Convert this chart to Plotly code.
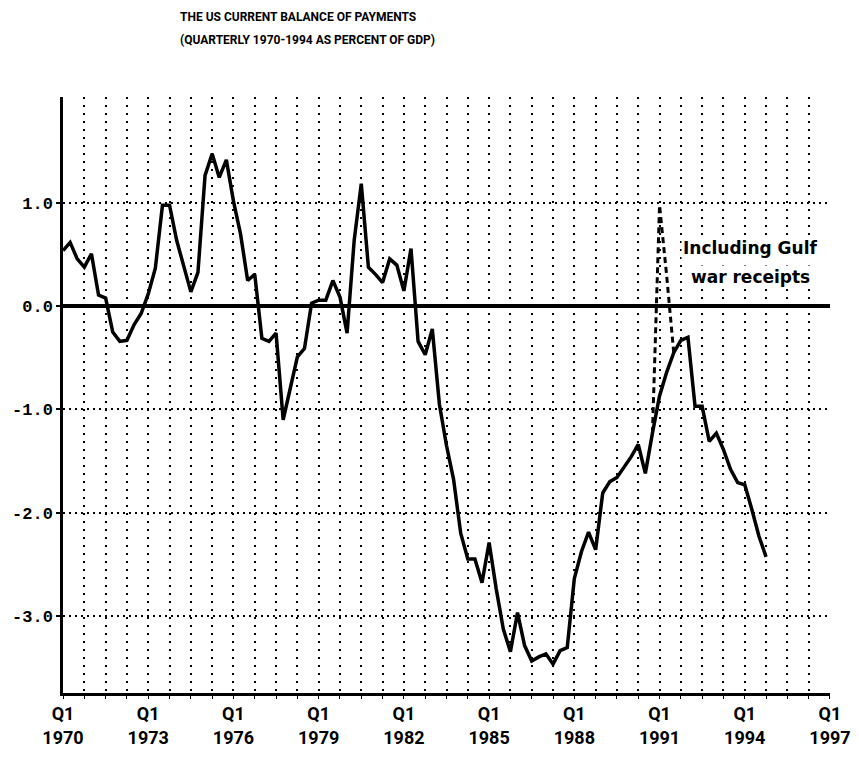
import plotly.graph_objects as go

# Quarterly data, 1970Q1 .. 1994Q4 (percent of GDP)
years = list(range(1970, 1995))
quarters = [1, 2, 3, 4]
balance = [
    0.54, 0.62, 0.46, 0.38,      # 1970
    0.51, 0.11, 0.08, -0.25,     # 1971
    -0.34, -0.33, -0.18, -0.07,  # 1972
    0.12, 0.37, 0.98, 0.98,      # 1973
    0.64, 0.38, 0.14, 0.33,      # 1974
    1.27, 1.48, 1.25, 1.42,      # 1975
    1.02, 0.70, 0.25, 0.31,      # 1976
    -0.31, -0.34, -0.26, -1.10,  # 1977
    -0.80, -0.49, -0.41, 0.03,   # 1978
    0.06, 0.06, 0.25, 0.09,      # 1979
    -0.26, 0.64, 1.19, 0.38,     # 1980
    0.31, 0.23, 0.46, 0.40,      # 1981
    0.15, 0.56, -0.34, -0.47,    # 1982
    -0.22, -0.95, -1.35, -1.68,  # 1983
    -2.20, -2.45, -2.45, -2.68,  # 1984
    -2.29, -2.74, -3.13, -3.35,  # 1985
    -2.97, -3.29, -3.44, -3.40,  # 1986
    -3.37, -3.47, -3.34, -3.31,  # 1987
    -2.64, -2.38, -2.19, -2.36,  # 1988
    -1.81, -1.70, -1.66, -1.56,  # 1989
    -1.46, -1.34, -1.62, -1.23,  # 1990
    -0.87, -0.64, -0.45, -0.33,  # 1991
    -0.30, -0.97, -0.97, -1.31,  # 1992
    -1.23, -1.39, -1.58, -1.71,  # 1993
    -1.73, -1.97, -2.23, -2.43,  # 1994
]

# "Including Gulf war receipts" branch (1990Q4 .. 1991Q3)
gulf_x_labels = [(1990, 4), (1991, 1), (1991, 2), (1991, 3)]
gulf_values = [-1.23, 0.98, 0.30, -0.45]

tick_years = [1970, 1973, 1976, 1979, 1982, 1985, 1988, 1991, 1994, 1997]
tick_text = ["Q1<br>%d" % y for y in tick_years]
y_ticks = [-3, -2, -1, 0, 1]
y_tick_text = ["-3.0", "-2.0", "-1.0", "0.0", "1.0"]

title_line1 = "THE US CURRENT BALANCE OF PAYMENTS"
title_line2 = "(QUARTERLY 1970-1994 AS PERCENT OF GDP)"
note_line1 = "Including Gulf"
note_line2 = "war receipts"

t = [y + (q - 1) / 4 for y in years for q in quarters]
gx = [y + (q - 1) / 4 for y, q in gulf_x_labels]

NARROW = "Roboto, Liberation Sans, sans-serif"
MONO = "Liberation Mono, DejaVu Sans Mono, monospace"
NOTE = "DejaVu Sans, sans-serif"

fig = go.Figure()
fig.add_trace(go.Scatter(x=gx, y=gulf_values, mode="lines",
                         line=dict(color="black", width=3, dash="6px,4px"),
                         hoverinfo="skip", showlegend=False))
fig.add_trace(go.Scatter(x=t, y=balance, mode="lines",
                         line=dict(color="black", width=3.5),
                         showlegend=False))

# page body has an 8px default margin, so the figure is offset by 8px
fig.update_layout(
    width=851, height=750,
    margin=dict(l=55, r=29, t=89, b=65),
    paper_bgcolor="white", plot_bgcolor="white",
    showlegend=False,
    font=dict(family=NARROW, color="black"),
)

fig.update_xaxes(
    range=[1969.999, 1997.001],
    automargin=False,
    tickmode="array", tickvals=tick_years, ticktext=tick_text,
    tickfont=dict(family=NARROW, size=18, color="black", weight="bold"),
    showgrid=True, gridcolor="black", gridwidth=1.5, griddash="2px,6px",
    minor=dict(dtick=0.75, tick0=1970, showgrid=True, gridcolor="black",
               gridwidth=1.5, griddash="2px,6px", ticks="outside",
               ticklen=3, tickcolor="black"),
    ticks="outside", ticklen=3, tickcolor="black",
    showline=True, linecolor="black", linewidth=2.5,
    zeroline=False, fixedrange=True,
)
fig.update_yaxes(
    range=[-3.75, 2.03],
    automargin=False,
    tickmode="array", tickvals=y_ticks, ticktext=y_tick_text,
    tickfont=dict(family=MONO, size=17, color="black", weight="bold"),
    showgrid=True, gridcolor="black", gridwidth=1.5, griddash="2px,4px",
    ticks="outside", ticklen=4, tickwidth=2, tickcolor="black",
    showline=True, linecolor="black", linewidth=2.5,
    zeroline=True, zerolinecolor="black", zerolinewidth=3.5,
    fixedrange=True,
)

fig.add_annotation(text=title_line1, xref="paper", yref="paper",
                   x=0.15, y=1.134, xanchor="left", yanchor="middle",
                   showarrow=False,
                   font=dict(family=NARROW, size=12, color="black", weight="bold"))
fig.add_annotation(text=title_line2, xref="paper", yref="paper",
                   x=0.15, y=1.0956, xanchor="left", yanchor="middle",
                   showarrow=False,
                   font=dict(family=NARROW, size=12, color="black", weight="bold"))
fig.add_annotation(text=note_line1, xref="x", yref="y",
                   x=1991.75, y=0.567, xanchor="left", yanchor="middle",
                   showarrow=False, bgcolor="white",
                   font=dict(family=NOTE, size=17, color="black", weight="bold"))
fig.add_annotation(text=note_line2, xref="x", yref="y",
                   x=1992.05, y=0.286, xanchor="left", yanchor="middle",
                   showarrow=False, bgcolor="white",
                   font=dict(family=NOTE, size=17, color="black", weight="bold"))

fig.write_html("out.html")
